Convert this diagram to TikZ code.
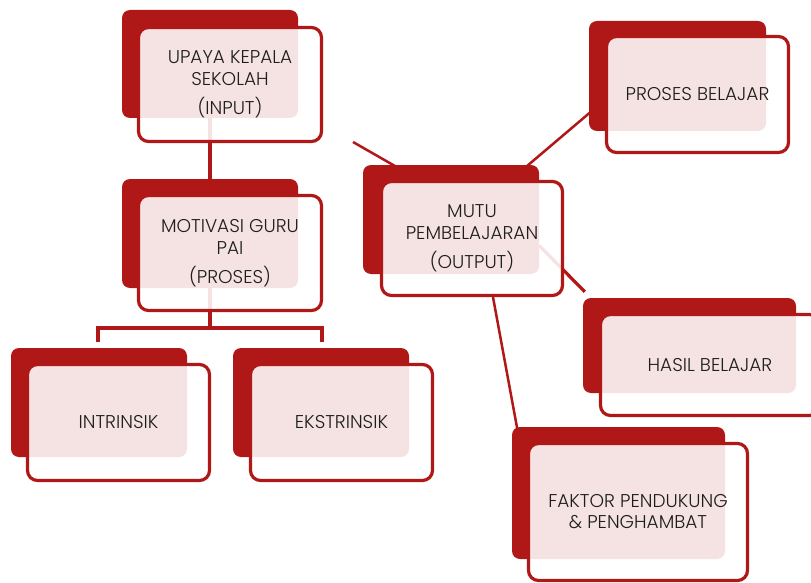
\documentclass[tikz,border=0pt]{standalone}
\usepackage{fontspec}
\setmainfont{Poppins Light}
\usetikzlibrary{backgrounds}
\definecolor{dred}{RGB}{176,23,23}
\definecolor{ink}{RGB}{30,30,30}
\begin{document}
\begin{tikzpicture}[x=1pt,y=-1pt,
  backbox/.style={fill=dred, draw=none, rounded corners=8pt, inner sep=0pt},
  framebox/.style={draw=dred, line width=3.2pt, rounded corners=10pt, fill=white,
    fill opacity=0.88, draw opacity=1, text opacity=1, inner sep=0pt, text=ink,
    align=center, font=\fontsize{18.5}{22}\selectfont},
  link/.style={draw=dred, line width=2.5pt},
  trunk/.style={draw=dred, line width=3.5pt}]
\useasboundingbox (0,0) rectangle (811,583);
% UPAYA
\node[backbox, minimum width=176pt, minimum height=108pt] (b1) at (210,64) {};
\node[framebox, minimum width=183pt, minimum height=114pt] (f1) at (230,84.5) {UPAYA KEPALA\\SEKOLAH\\[7pt](INPUT)};
% MOTIVASI
\node[backbox, minimum width=176pt, minimum height=109pt] (b2) at (210,233.5) {};
\node[framebox, minimum width=183pt, minimum height=115pt] (f2) at (230,253) {MOTIVASI GURU\\PAI\\[7pt](PROSES)};
% MUTU
\node[backbox, minimum width=176pt, minimum height=109pt] (b3) at (451,219.5) {};
\node[framebox, minimum width=181pt, minimum height=114pt] (f3) at (472,238.5) {MUTU\\PEMBELAJARAN\\[7pt](OUTPUT)};
% PROSES BELAJAR
\node[backbox, minimum width=177pt, minimum height=110pt] (b4) at (677.5,76) {};
\node[framebox, minimum width=182pt, minimum height=116pt] (f4) at (697.5,94.5) {PROSES BELAJAR};
% HASIL BELAJAR
\node[backbox, minimum width=213pt, minimum height=95pt] (b5) at (689.5,345.5) {};
\node[framebox, minimum width=219pt, minimum height=101pt] (f5) at (710,365) {HASIL BELAJAR};
% INTRINSIK
\node[backbox, minimum width=176pt, minimum height=109pt] (b6) at (99,402.5) {};
\node[framebox, minimum width=182pt, minimum height=116pt] (f6) at (118.5,422.5) {INTRINSIK};
% EKSTRINSIK
\node[backbox, minimum width=176pt, minimum height=109pt] (b7) at (321,402.5) {};
\node[framebox, minimum width=182pt, minimum height=116pt] (f7) at (341.5,422.5) {EKSTRINSIK};
% FAKTOR
\node[backbox, minimum width=213pt, minimum height=132pt] (b8) at (618.5,493) {};
\node[framebox, minimum width=219pt, minimum height=137pt, font=\fontsize{18.5}{21}\selectfont] (f8) at (638,512) {FAKTOR PENDUKUNG\\\& PENGHAMBAT};
\begin{scope}[on background layer]
  \draw[trunk] (b1.center) -- (b2.center);
  \coordinate (t) at (210,328);
  \draw[trunk] (b2.center) -- (t);
  \draw[trunk] ([shift={(-1,-6)}]b6.north) |- (t) -| ([shift={(1,-6)}]b7.north);
  \coordinate (m0) at (353,142);
  \draw[link] (m0) -- ([shift={(44,8)}]b3.north west);
  \draw[link] ([shift={(-19,7)}]b3.north east) -- ([shift={(11,-27)}]b4.south west);
  \draw[link, line width=3.2pt] ([shift={(0,26)}]b3.east) -- ([shift={(2,-6)}]b5.north west);
  \draw[link] ([shift={(21,0)}]f3.south) -- ([shift={(6,5)}]b8.north west);
\end{scope}
\end{tikzpicture}
\end{document}
